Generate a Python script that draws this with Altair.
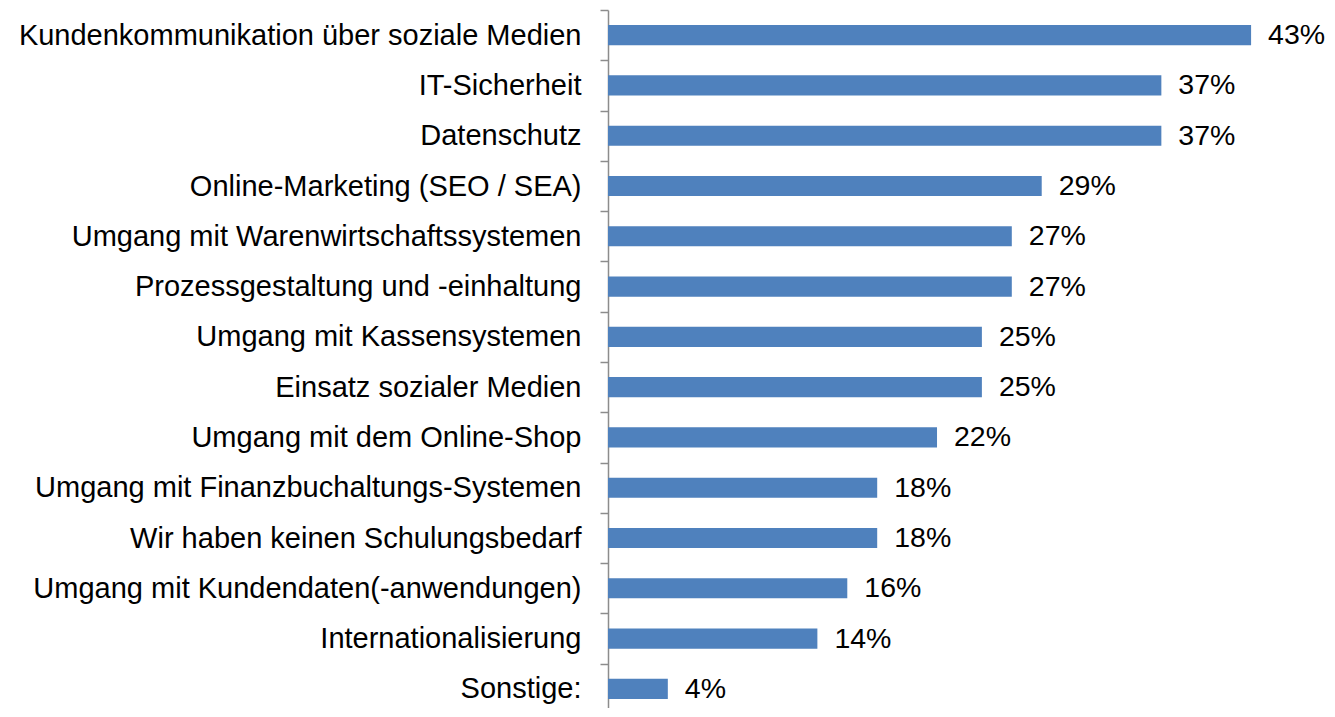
import altair as alt
import pandas as pd

categories = [
    "Kundenkommunikation über soziale Medien",
    "IT-Sicherheit",
    "Datenschutz",
    "Online-Marketing (SEO / SEA)",
    "Umgang mit Warenwirtschaftssystemen",
    "Prozessgestaltung und -einhaltung",
    "Umgang mit Kassensystemen",
    "Einsatz sozialer Medien",
    "Umgang mit dem Online-Shop",
    "Umgang mit Finanzbuchaltungs-Systemen",
    "Wir haben keinen Schulungsbedarf ",
    "Umgang mit Kundendaten(-anwendungen)",
    "Internationalisierung",
    "Sonstige:",
]
values = [43, 37, 37, 29, 27, 27, 25, 25, 22, 18, 18, 16, 14, 4]
labels = [f"{v}%" for v in values]

df = pd.DataFrame({"cat": categories, "val": values, "lab": labels})

FONT = "Liberation Sans"
FS = 28.5
HEIGHT = 698
RANGE = 704
P_IN, P_OUT = 0.6, 0.3
STEP = RANGE / (len(categories) - P_IN + 2 * P_OUT)

y_enc = alt.Y(
    "cat:N",
    sort=categories,
    title=None,
    scale=alt.Scale(paddingInner=P_IN, paddingOuter=P_OUT, range=[0, RANGE]),
    axis=alt.Axis(
        tickOffset=-STEP / 2,
        labelOffset=STEP / 2,
        domainColor="#8c8c8c",
        tickColor="#8c8c8c",
        domainWidth=1.5,
        tickWidth=1.5,
        tickSize=8,
        labelPadding=19,
        labelFontSize=29,
        labelFont=FONT,
        labelColor="#000000",
        labelLimit=800,
        grid=False,
    ),
)
x_enc = alt.X("val:Q", scale=alt.Scale(domain=[0, 45]), axis=None)

bars = alt.Chart(df).mark_bar(color="#4F81BD").encode(x=x_enc, y=y_enc)
text = alt.Chart(df).mark_text(
    align="left", baseline="middle", dx=17, fontSize=FS, font=FONT, color="#000000"
).encode(x=x_enc, y=alt.Y("cat:N", sort=categories), text="lab:N")

chart = (
    alt.layer(bars, text)
    .properties(
        width=673,
        height=HEIGHT,
        autosize=alt.AutoSizeParams(type="none"),
        padding={"top": 2, "left": 600, "right": 46, "bottom": 0},
    )
    .configure_view(stroke=None)
)

chart.save("out.html", embed_options={"renderer": "svg", "actions": False})
